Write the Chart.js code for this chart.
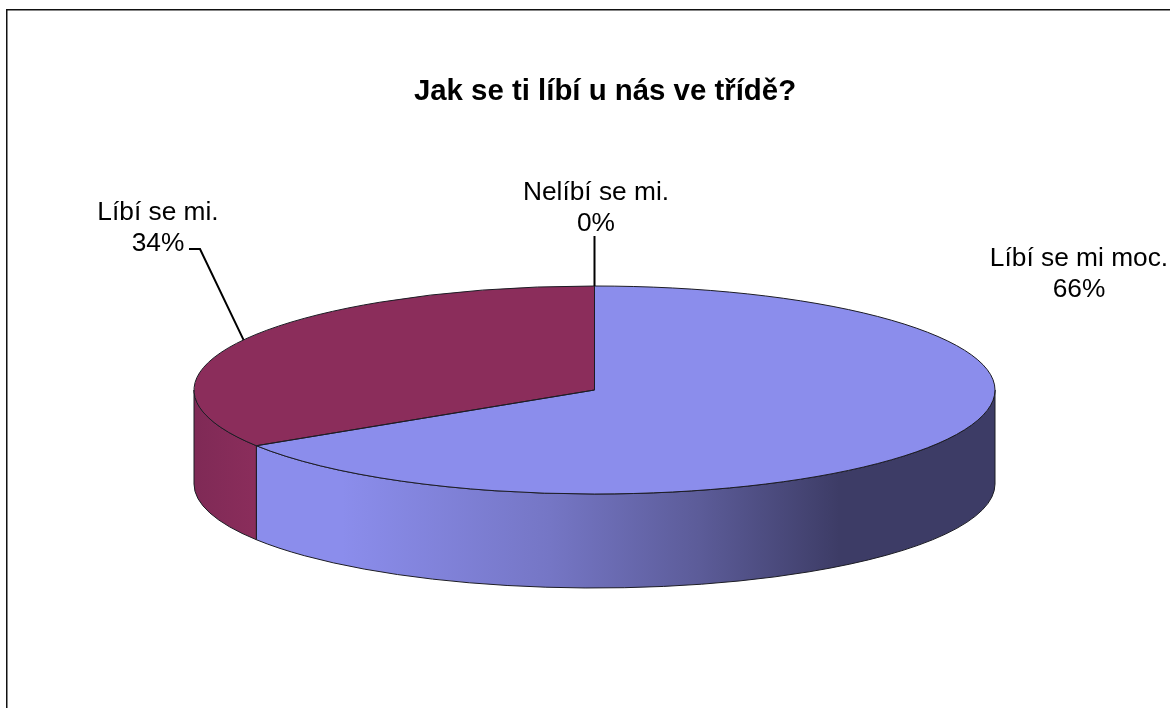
<!DOCTYPE html>
<html lang="cs">
<head>
<meta charset="utf-8">
<title>Jak se ti líbí u nás ve třídě?</title>
<script src="https://cdn.jsdelivr.net/npm/chart.js@4"></script>
<style>
  html, body { margin: 0; padding: 0; background: #fff; overflow: hidden; }
  canvas { display: block; }
</style>
</head>
<body>
<canvas id="pie" width="1170" height="708"></canvas>
<script>
// ---------- Data ----------
const chartTitle = 'Jak se ti líbí u nás ve třídě?';
const categories = ['Líbí se mi moc.', 'Líbí se mi.', 'Nelíbí se mi.'];
const shares = [66, 34, 0];
const topColors = ['#8B8DEC', '#8B2D5B', '#2F8F5B'];

// ---------- Fake 3D geometry (the library's arcs get squashed into this ellipse) ----------
const CX = 594.5, CY = 390, RX = 400.5, RY = 104, DEPTH = 94;
const FONT = '"Liberation Sans", Arial, sans-serif';

// centre x, first line baseline and the leader drawn to the slice edge
const labelSpots = [
  { x: 1079, y: 266 },
  { x: 158, y: 220, leader: [[189, 249], [200, 249]] },
  { x: 596, y: 200, leader: [[594.5, 236]] }
];

function wallFill(ctx, i){
  if (i === 1){
    const g = ctx.createLinearGradient(194, 0, 253, 0);
    g.addColorStop(0, '#7F2A56');
    g.addColorStop(1, '#8A2D5B');
    return g;
  }
  const g = ctx.createLinearGradient(253, 0, 995, 0);
  g.addColorStop(0, '#8B8DEC');
  g.addColorStop(0.12, '#8B8DEC');
  g.addColorStop(0.4, '#7576C5');
  g.addColorStop(0.6, '#5C5C99');
  g.addColorStop(0.79, '#3D3C66');
  g.addColorStop(1, '#3D3C66');
  return g;
}

function edgeStyle(ctx){
  ctx.strokeStyle = '#1c1c24';
  ctx.lineWidth = 1;
}

const fakeDepth = {
  id: 'fakeDepth',
  beforeDatasetsDraw(chart){
    const ctx = chart.ctx;
    // frame, only left and top fall inside the window
    ctx.save();
    ctx.strokeStyle = '#111';
    ctx.lineWidth = 1.5;
    ctx.strokeRect(6.75, 9.75, 1400, 1000);

    // side walls: only the front half (0..PI) of each slice shows
    chart.getDatasetMeta(0).data.forEach((a, i) => {
      const from = Math.max(a.startAngle, 0);
      const to = Math.min(a.endAngle, Math.PI);
      if (to <= from) return;
      ctx.beginPath();
      ctx.ellipse(CX, CY, RX, RY, 0, from, to);
      ctx.lineTo(CX + RX * Math.cos(to), CY + DEPTH + RY * Math.sin(to));
      ctx.ellipse(CX, CY + DEPTH, RX, RY, 0, to, from, true);
      ctx.closePath();
      ctx.fillStyle = wallFill(ctx, i);
      ctx.fill();
      edgeStyle(ctx);
      ctx.stroke();
    });
    ctx.restore();

    // squash the round pie into the top ellipse
    const first = chart.getDatasetMeta(0).data[0];
    ctx.save();
    ctx.translate(CX, CY);
    ctx.scale(RX / first.outerRadius, RY / first.outerRadius);
    ctx.translate(-first.x, -first.y);
  },
  afterDatasetsDraw(chart){
    const ctx = chart.ctx;
    ctx.restore();

    // outlines of the top face, drawn here so the squash does not thin them
    ctx.save();
    edgeStyle(ctx);
    chart.getDatasetMeta(0).data.forEach(a => {
      if (a.endAngle - a.startAngle <= 0) return;
      ctx.beginPath();
      ctx.moveTo(CX, CY);
      ctx.ellipse(CX, CY, RX, RY, 0, a.startAngle, a.endAngle);
      ctx.closePath();
      ctx.stroke();
    });

    // leaders and labels
    ctx.fillStyle = '#000';
    ctx.font = '26.3px ' + FONT;
    ctx.textAlign = 'center';
    ctx.textBaseline = 'alphabetic';
    chart.getDatasetMeta(0).data.forEach((a, i) => {
      const spot = labelSpots[i];
      if (spot.leader){
        const mid = (a.startAngle + a.endAngle) / 2;
        ctx.beginPath();
        spot.leader.forEach((p, k) => k ? ctx.lineTo(p[0], p[1]) : ctx.moveTo(p[0], p[1]));
        ctx.lineTo(CX + RX * Math.cos(mid), CY + RY * Math.sin(mid));
        ctx.strokeStyle = '#000';
        ctx.lineWidth = 2;
        ctx.stroke();
      }
      ctx.fillText(categories[i], spot.x, spot.y);
      ctx.fillText(shares[i] + '%', spot.x, spot.y + 30.5);
    });
    ctx.restore();
  }
};

// ---------- Chart ----------
new Chart(document.getElementById('pie'), {
  type: 'pie',
  data: {
    labels: categories,
    datasets: [{
      data: shares,
      backgroundColor: topColors,
      borderWidth: 0,
      clip: false
    }]
  },
  options: {
    responsive: false,
    animation: false,
    layout: { padding: { left: 40 } },
    plugins: {
      legend: { display: false },
      tooltip: { enabled: false },
      title: {
        display: true,
        text: chartTitle,
        color: '#000',
        font: { family: FONT, size: 29.4, weight: 'bold' },
        padding: { top: 74, bottom: 10 }
      }
    }
  },
  plugins: [fakeDepth]
});
</script>
</body>
</html>
